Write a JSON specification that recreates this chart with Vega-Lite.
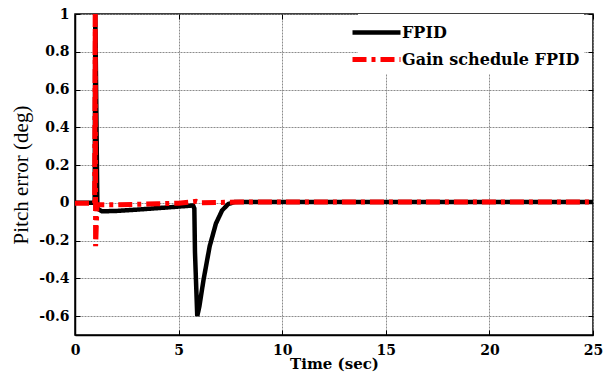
{
  "$schema": "https://vega.github.io/schema/vega-lite/v6.json",
  "width": 518,
  "height": 321,
  "autosize": {"type": "none"},
  "padding": {"left": 75, "top": 14, "right": 12, "bottom": 48},
  "background": "white",
  "data": {
    "values": [
      {"t": 0, "v": 0, "s": "FPID"},
      {"t": 0.95, "v": 0, "s": "FPID"},
      {"t": 0.98, "v": 1.0, "s": "FPID"},
      {"t": 1.08, "v": -0.03, "s": "FPID"},
      {"t": 1.3, "v": -0.045, "s": "FPID"},
      {"t": 2, "v": -0.043, "s": "FPID"},
      {"t": 3, "v": -0.036, "s": "FPID"},
      {"t": 4, "v": -0.028, "s": "FPID"},
      {"t": 5, "v": -0.02, "s": "FPID"},
      {"t": 5.7, "v": -0.014, "s": "FPID"},
      {"t": 5.76, "v": -0.03, "s": "FPID"},
      {"t": 5.79, "v": -0.26, "s": "FPID"},
      {"t": 5.9, "v": -0.6, "s": "FPID"},
      {"t": 6.0, "v": -0.55, "s": "FPID"},
      {"t": 6.2, "v": -0.41, "s": "FPID"},
      {"t": 6.5, "v": -0.23, "s": "FPID"},
      {"t": 6.8, "v": -0.11, "s": "FPID"},
      {"t": 7.1, "v": -0.04, "s": "FPID"},
      {"t": 7.4, "v": -0.006, "s": "FPID"},
      {"t": 7.7, "v": 0.004, "s": "FPID"},
      {"t": 8.5, "v": 0.004, "s": "FPID"},
      {"t": 25, "v": 0.004, "s": "FPID"},
      {"t": 0, "v": -0.002, "s": "Gain schedule FPID"},
      {"t": 0.95, "v": -0.002, "s": "Gain schedule FPID"},
      {"t": 0.975, "v": 1.0, "s": "Gain schedule FPID"},
      {"t": 0.995, "v": -0.23, "s": "Gain schedule FPID"},
      {"t": 1.06, "v": -0.01, "s": "Gain schedule FPID"},
      {"t": 2, "v": -0.01, "s": "Gain schedule FPID"},
      {"t": 3, "v": -0.008, "s": "Gain schedule FPID"},
      {"t": 4, "v": -0.005, "s": "Gain schedule FPID"},
      {"t": 5, "v": -0.002, "s": "Gain schedule FPID"},
      {"t": 5.6, "v": 0.004, "s": "Gain schedule FPID"},
      {"t": 5.85, "v": 0.008, "s": "Gain schedule FPID"},
      {"t": 6.1, "v": 0.0, "s": "Gain schedule FPID"},
      {"t": 7, "v": 0.002, "s": "Gain schedule FPID"},
      {"t": 8, "v": 0.004, "s": "Gain schedule FPID"},
      {"t": 25, "v": 0.004, "s": "Gain schedule FPID"}
    ]
  },
  "resolve": {"axis": {"x": "independent", "y": "independent"}},
  "layer": [
    {
      "mark": {"type": "line", "strokeCap": "butt", "strokeJoin": "miter", "clip": true},
      "encoding": {
        "x": {
          "field": "t", "type": "quantitative",
          "scale": {"domain": [0, 25], "nice": false, "zero": false},
          "axis": {"title": "Time (sec)", "values": [0, 5, 10, 15, 20, 25], "format": "d", "labelPadding": 13, "titlePadding": -1}
        },
        "y": {
          "field": "v", "type": "quantitative",
          "scale": {"domain": [-0.7, 1], "nice": false, "zero": false},
          "axis": {
            "title": "Pitch error (deg)",
            "values": [-0.6, -0.4, -0.2, 0, 0.2, 0.4, 0.6, 0.8, 1],
            "labelExpr": "datum.value + ''",
            "labelPadding": 11,
            "titleFont": "Liberation Serif", "titleFontWeight": "normal", "titleFontSize": 21,
            "titlePadding": 7
          }
        },
        "color": {
          "field": "s", "type": "nominal",
          "scale": {"domain": ["FPID", "Gain schedule FPID"], "range": ["#000000", "#ff0000"]},
          "legend": {
            "title": null, "orient": "none", "legendX": 283, "legendY": 0,
            "symbolType": "M-2,0H2", "symbolSize": 576, "symbolStrokeWidth": 4,
            "symbolFillColor": "transparent",
            "labelFont": "DejaVu Serif", "labelFontWeight": "bold", "labelFontSize": 16,
            "labelColor": "black", "labelOffset": 11, "labelLimit": 0, "padding": 4, "rowPadding": 3,
            "fillColor": "white"
          }
        },
        "strokeDash": {
          "field": "s", "type": "nominal",
          "scale": {"domain": ["FPID", "Gain schedule FPID"], "range": [[1, 0], [14, 5, 4, 5]]}
        },
        "strokeWidth": {
          "field": "s", "type": "nominal",
          "scale": {"domain": ["FPID", "Gain schedule FPID"], "range": [4.5, 5]},
          "legend": null
        }
      }
    },
    {
      "mark": {"type": "point", "opacity": 0},
      "encoding": {
        "x": {
          "field": "t", "type": "quantitative",
          "scale": {"domain": [0, 25], "nice": false, "zero": false},
          "axis": {"orient": "top", "title": null, "labels": false, "grid": false, "domain": false, "values": [0, 5, 10, 15, 20, 25]}
        },
        "y": {
          "field": "v", "type": "quantitative",
          "scale": {"domain": [-0.7, 1], "nice": false, "zero": false},
          "axis": {"orient": "right", "title": null, "labels": false, "grid": false, "domain": false, "values": [-0.6, -0.4, -0.2, 0, 0.2, 0.4, 0.6, 0.8, 1]}
        }
      }
    }
  ],
  "config": {
    "view": {"stroke": "black", "strokeWidth": 1.5},
    "axis": {
      "labelFont": "DejaVu Serif", "labelFontWeight": "bold", "labelFontSize": 14, "labelColor": "black",
      "labelFlush": false,
      "titleFont": "DejaVu Serif", "titleFontWeight": "bold", "titleFontSize": 15, "titleColor": "black",
      "domainColor": "black", "domainWidth": 1.5,
      "tickColor": "black", "tickSize": -5, "tickWidth": 1,
      "grid": true, "gridColor": "#8c8c8c", "gridDash": [2, 1], "gridWidth": 1
    }
  }
}
